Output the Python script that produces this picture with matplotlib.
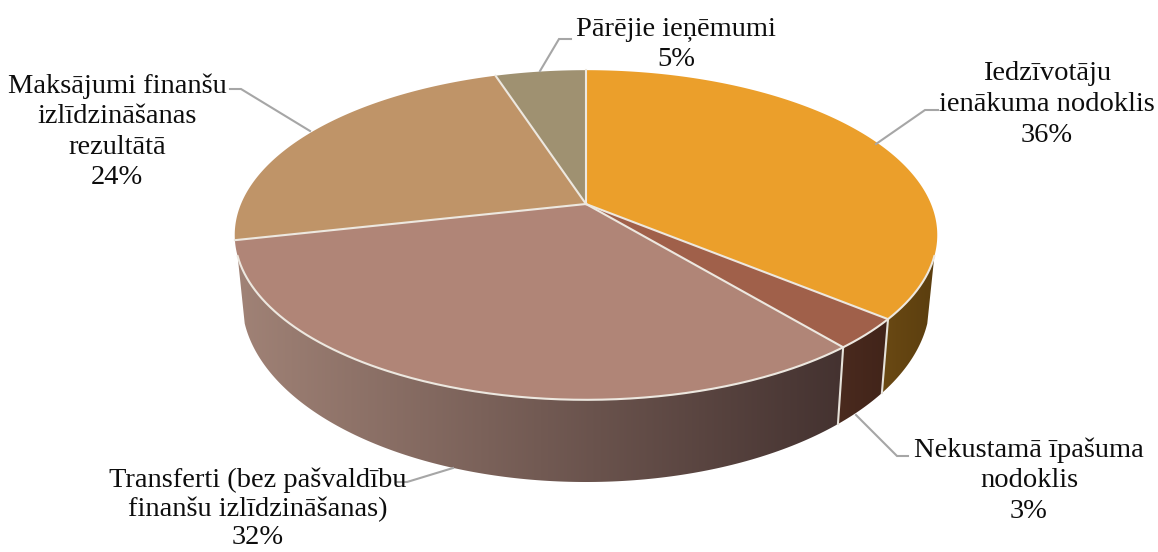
import numpy as np
import matplotlib
matplotlib.use("Agg")
import matplotlib.pyplot as plt
from matplotlib.patches import Polygon

shares = [36, 3, 32.5, 23.5, 5]
top_colors = ["#EB9F2B", "#A0604A", "#B08577", "#BF9468", "#9F9171"]
# wall colours at the left and right end of the picture
wall_left = ["#6A4913", "#4A2A1E", "#A08276"]
wall_right = ["#5B3E0F", "#41241A", "#443230"]
label_lines = [
    ["Iedzīvotāju", "ienākuma nodoklis", "36%"],
    ["Nekustamā īpašuma", "nodoklis", "3%"],
    ["Transferti (bez pašvaldību", "finanšu izlīdzināšanas)", "32%"],
    ["Maksājumi finanšu", "izlīdzināšanas", "rezultātā", "24%"],
    ["Pārējie ieņēmumi", "5%"],
]
label_pos = [(1047, 74), (1029, 450), (258, 480), (117, 86), (676, 29)]
label_gap = [30.5, 30.5, 29, 30.5, 30.5]
leaders = [
    [(876, 144), (925, 110), (938, 110)],
    [(856, 415), (897, 456), (908, 456)],
    [(453, 468), (407, 482), (397, 482)],
    [(310, 131), (241, 89), (230, 89)],
    [(540, 71), (559, 39), (571, 39)],
]

CX = 586
PERSP = 0.188


def top_rim(theta):
    # perspective view of the top disc, theta clockwise from 12 o'clock
    d = 1 + PERSP * np.cos(theta)
    return CX + 345 * np.sin(theta) / d, 204 - 159 * np.cos(theta) / d


def bottom_rim(theta):
    d = 1 + PERSP * np.cos(theta)
    return CX + 338 * np.sin(theta) / d, 266 - 175.4 * np.cos(theta) / d


fig = plt.figure(figsize=(11.58, 5.52), dpi=100)
ax = fig.add_axes([0, 0, 1, 1])

edges = np.deg2rad(np.cumsum([0] + shares) * 3.6)
vis_start, vis_end = np.deg2rad(108), np.deg2rad(252)

# side walls
for i in range(3):
    t0, t1 = max(edges[i], vis_start), min(edges[i + 1], vis_end)
    t = np.linspace(t0, t1, 150)
    xt, yt = top_rim(t)
    xb, yb = bottom_rim(t)
    poly = Polygon(np.r_[np.c_[xt, yt], np.c_[xb, yb][::-1]], closed=True,
                   facecolor="none", edgecolor="none", transform=ax.transData)
    ax.add_patch(poly)
    c0 = np.array(matplotlib.colors.to_rgb(wall_left[i]))
    c1 = np.array(matplotlib.colors.to_rgb(wall_right[i]))
    x0, x1 = min(xt.min(), xb.min()), max(xt.max(), xb.max())
    grad = np.linspace(c0, c1, 256)[None, :, :]
    im = ax.imshow(grad, extent=(x0, x1, 500, 100), aspect="auto", zorder=1)
    im.set_clip_path(poly)

ax.set_xlim(0, 1158)
ax.set_ylim(552, 0)
ax.axis("off")

# seams on the walls
for e in edges[1:3]:
    xt, yt = top_rim(e)
    xb, yb = bottom_rim(e)
    ax.plot([xt, xb], [yt, yb], color="#E6E2DA", lw=1.5, zorder=2)

# top faces
for i, col in enumerate(top_colors):
    t = np.linspace(edges[i], edges[i + 1], 200)
    xt, yt = top_rim(t)
    pts = np.r_[[[CX, 204]], np.c_[xt, yt]]
    ax.add_patch(Polygon(pts, closed=True, facecolor=col, edgecolor="none", zorder=3))
    ax.plot([CX, xt[0]], [204, yt[0]], color="#EDE8E0", lw=1.5, zorder=4)

# light rim along the front of the top disc
t = np.linspace(vis_start, vis_end, 300)
ax.plot(*top_rim(t), color="#EDE8E0", lw=1.5, zorder=4)

for pts in leaders:
    xs, ys = zip(*pts)
    ax.plot(xs, ys, color="#A6A6A6", lw=1.5, zorder=5, solid_joinstyle="miter")

for lines, (x, y), gap in zip(label_lines, label_pos, label_gap):
    for n, line in enumerate(lines):
        ax.text(x, y + n * gap, line, ha="center", va="center", fontsize=20.5,
                family="Liberation Serif", color="#0d0d0d", zorder=6)

fig.savefig("out.png", dpi=100)
